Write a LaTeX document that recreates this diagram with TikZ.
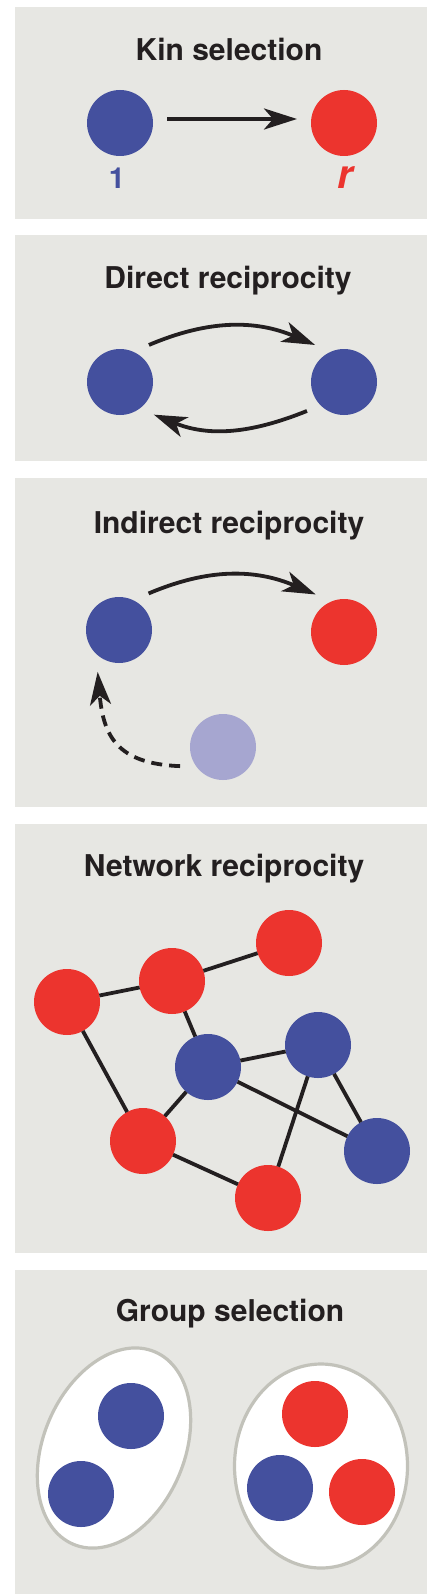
\documentclass[tikz,border=0pt]{standalone}
\usepackage{fontspec}
\setmainfont{TeX Gyre Heros}
\usetikzlibrary{arrows.meta,shapes.geometric}

\definecolor{panelgray}{RGB}{231,231,227}
\definecolor{coopblue}{RGB}{68,80,158}
\definecolor{defred}{RGB}{236,52,46}
\definecolor{fadeblue}{RGB}{166,166,208}
\definecolor{ink}{RGB}{35,31,32}
\definecolor{rimgray}{RGB}{194,194,186}

\begin{document}
\begin{tikzpicture}[x=0.5pt, y=0.5pt,
	paneltitle/.style={anchor=base, text=ink, font=\bfseries\fontsize{15}{18}\selectfont},
	agent/.style={circle, minimum size=33pt, inner sep=0pt, outer sep=7pt},
	netdot/.style={circle, minimum size=33pt, inner sep=0pt, outer sep=0pt},
	arr/.style={-{Stealth[length=16.5pt, width=10.5pt, inset=4.5pt]}, line width=1.9pt, ink},
	link/.style={line width=1.9pt, ink},
	grp/.style={ellipse, draw=rimgray, fill=white, line width=1.6pt, inner sep=0pt}]
		\useasboundingbox (0,0) rectangle (438,-1594);
		\fill[white] (0,0) rectangle (438,-1594);
		
		%panels
		\foreach \ptop/\pbot in {7/219, 235/461, 478/807, 824/1253, 1270/1594}{
			\fill[panelgray] (15,-\ptop) rectangle (427,-\pbot);
		}
		
		%kin selection
		\node[paneltitle] (t1) at (229,-61){Kin selection};
		\node[agent, fill=coopblue] (k1) at (120,-123){};
		\node[agent, fill=defred] (kr) at (344,-123){};
		\node[anchor=base, text=coopblue, font=\bfseries\fontsize{14.5}{17}\selectfont] (l1) at (117,-189){1};
		\node[anchor=base, text=defred, font=\bfseries\itshape\fontsize{20}{24}\selectfont] (lr) at (345,-189){r};
		\draw[arr] ([yshift=2pt]k1.east) -- ([yshift=2pt]kr.west);
		
		%direct reciprocity
		\node[paneltitle] (t2) at (228,-288){Direct reciprocity};
		\node[agent, fill=coopblue] (d1) at (120,-382){};
		\node[agent, fill=coopblue] (d2) at (344,-382){};
		\draw[arr] (d1.52) to[out=23, in=157] (d2.128);
		\draw[arr] (d2.218) to[out=202, in=-22] (d1.316);
		
		%indirect reciprocity
		\node[paneltitle] (t3) at (229,-533){Indirect reciprocity};
		\node[agent, fill=coopblue] (i1) at (119,-630){};
		\node[agent, fill=defred] (i2) at (344,-632){};
		\node[agent, fill=fadeblue] (i3) at (223,-747){};
		\draw[arr] (i1.51) to[out=23, in=157] (i2.127);
		\draw[arr, dash pattern=on 5.5pt off 3.5pt] (i3.204) to[out=178, in=-85, looseness=1.3] (i1.243);
		
		%network reciprocity
		\node[paneltitle] (t4) at (224,-876){Network reciprocity};
		\node[netdot, fill=defred] (n1) at (67,-1002){};
		\node[netdot, fill=defred] (n2) at (172,-981){};
		\node[netdot, fill=defred] (n3) at (289,-943){};
		\node[netdot, fill=coopblue] (n4) at (208,-1067){};
		\node[netdot, fill=coopblue] (n5) at (318,-1045){};
		\node[netdot, fill=defred] (n6) at (143,-1141){};
		\node[netdot, fill=coopblue] (n7) at (377,-1151){};
		\node[netdot, fill=defred] (n8) at (268,-1198){};
		\foreach \a/\b in {n1/n2, n2/n3, n2/n4, n1/n6, n4/n6, n4/n5, n4/n7, n5/n8, n5/n7, n6/n8}{
			\draw[link] (\a) -- (\b);
		}
		
		%group selection
		\node[paneltitle] (t5) at (230,-1321){Group selection};
		\node[grp, rotate=67, minimum width=104.5pt, minimum height=70.5pt] (g1) at (114,-1448){};
		\node[grp, minimum width=86.5pt, minimum height=102pt] (g2) at (321,-1466){};
		\node[netdot, fill=coopblue] (g1a) at (131,-1416){};
		\node[netdot, fill=coopblue] (g1b) at (81,-1494){};
		\node[netdot, fill=defred] (g2a) at (315,-1414){};
		\node[netdot, fill=coopblue] (g2b) at (280,-1488){};
		\node[netdot, fill=defred] (g2c) at (362,-1492){};
\end{tikzpicture}
\end{document}
